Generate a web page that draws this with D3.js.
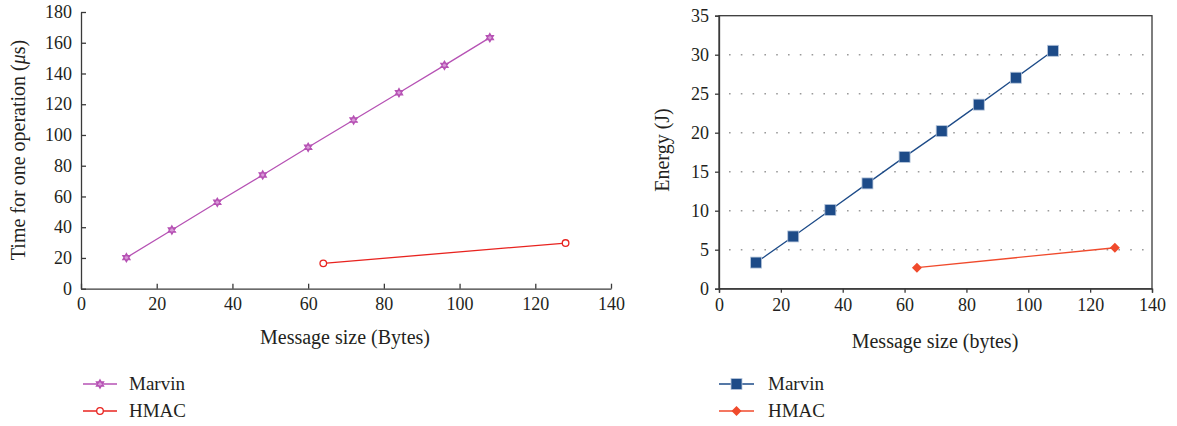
<!DOCTYPE html>
<html>
<head>
<meta charset="utf-8">
<script src="https://cdn.jsdelivr.net/npm/d3@7"></script>
<style>
  body { margin: 0; background: #fff; }
  text { font-family: "Liberation Serif", "DejaVu Serif", serif; fill: #231f20; }
  .axis path, .axis line { stroke: #3a3a3a; stroke-width: 1.3; }
</style>
</head>
<body>
<div class="chart"></div>
<script>
var svgWidth = 1177;
var svgHeight = 426;

// message sizes (bytes)
var marvinSizes = [12, 24, 36, 48, 60, 72, 84, 96, 108];
var hmacSizes = [64, 128];

// left panel: time for one operation (us)
var marvinTime = [20.2, 38.2, 56.2, 74, 92, 109.7, 127.5, 145.3, 163.3];
var hmacTime = [16.5, 29.7];

// right panel: energy (J)
var marvinEnergy = [3.35, 6.7, 10.1, 13.5, 16.9, 20.2, 23.6, 27.05, 30.5];
var hmacEnergy = [2.7, 5.25];

var xTicks = [0, 20, 40, 60, 80, 100, 120, 140];
var timeTicks = [0, 20, 40, 60, 80, 100, 120, 140, 160, 180];
var energyTicks = [0, 5, 10, 15, 20, 25, 30, 35];

var seriesNames = ["Marvin", "HMAC"];

var fontFam = "'Liberation Serif', 'DejaVu Serif', serif";

var svg = d3.select(".chart")
  .append("svg")
  .attr("width", svgWidth)
  .attr("height", svgHeight);

// six pointed star outline
function hexagram(r) {
  let p = d3.path();
  for (let t = 0; t < 2; t++) {
    for (let i = 0; i < 3; i++) {
      let a = (t === 0 ? -Math.PI / 2 : Math.PI / 2) + i * 2 * Math.PI / 3;
      let px = r * Math.cos(a), py = r * Math.sin(a);
      if (i === 0) p.moveTo(px, py); else p.lineTo(px, py);
    }
    p.closePath();
  }
  return p.toString();
}

function styleAxis(g) {
  g.attr("font-family", fontFam).attr("font-size", 18);
  g.selectAll("text")
    .style("font-family", fontFam)
    .style("font-size", "18px")
    .attr("fill", "#231f20");
}

// ---------------- left panel ----------------
let xLeft = d3.scaleLinear().domain([0, 140]).range([81, 611]);
let yLeft = d3.scaleLinear().domain([0, 180]).range([288.7, 12]);

svg.append("g")
  .attr("class", "axis")
  .attr("transform", "translate(0,288.7)")
  .call(d3.axisBottom(xLeft).tickValues(xTicks).tickSizeInner(-5).tickSizeOuter(0).tickPadding(9))
  .call(styleAxis);

svg.append("g")
  .attr("class", "axis")
  .attr("transform", "translate(81,0)")
  .call(d3.axisLeft(yLeft).tickValues(timeTicks).tickSizeInner(-5).tickSizeOuter(0).tickPadding(9))
  .call(styleAxis);

let lineLeft = d3.line().x(d => xLeft(d[0])).y(d => yLeft(d[1]));
let marvinL = d3.zip(marvinSizes, marvinTime);
let hmacL = d3.zip(hmacSizes, hmacTime);

svg.append("path").datum(marvinL)
  .attr("d", lineLeft).attr("fill", "none")
  .attr("stroke", "#b652b4").attr("stroke-width", 1.3);
svg.selectAll(".star").data(marvinL).enter()
  .append("path")
  .attr("class", "star")
  .attr("transform", d => `translate(${xLeft(d[0])},${yLeft(d[1])})`)
  .attr("d", hexagram(4.2))
  .attr("fill", "#d99ad8").attr("stroke", "#b652b4").attr("stroke-width", 1.2);

svg.append("path").datum(hmacL)
  .attr("d", lineLeft).attr("fill", "none")
  .attr("stroke", "#e8231f").attr("stroke-width", 1.3);
svg.selectAll(".ring").data(hmacL).enter()
  .append("circle")
  .attr("class", "ring")
  .attr("cx", d => xLeft(d[0])).attr("cy", d => yLeft(d[1]))
  .attr("r", 3.3)
  .attr("fill", "#fff").attr("stroke", "#e8231f").attr("stroke-width", 1.3);

svg.append("text")
  .attr("transform", "translate(25,150) rotate(-90)")
  .attr("text-anchor", "middle")
  .style("font-size", "20px")
  .html('Time for one operation (<tspan font-style="italic">μ</tspan>s)');

svg.append("text")
  .attr("x", 345).attr("y", 344)
  .attr("text-anchor", "middle")
  .style("font-size", "20px")
  .text("Message size (Bytes)");

// ---------------- right panel ----------------
let xRight = d3.scaleLinear().domain([0, 140]).range([719, 1152]);
let yRight = d3.scaleLinear().domain([0, 35]).range([288.7, 15.7]);

// dotted grid
svg.append("g").selectAll("line")
  .data(energyTicks.filter(d => d > 0 && d < 35))
  .enter().append("line")
  .attr("x1", 719).attr("x2", 1152)
  .attr("y1", d => yRight(d)).attr("y2", d => yRight(d))
  .attr("stroke", "#9a9a9a").attr("stroke-width", 1.6)
  .attr("stroke-dasharray", "1.6,10.2")
  .attr("stroke-dashoffset", -10);

svg.append("rect")
  .attr("x", 719).attr("y", 15.7)
  .attr("width", 1152 - 719).attr("height", 288.7 - 15.7)
  .attr("fill", "none").attr("stroke", "#3a3a3a").attr("stroke-width", 1.3);

svg.append("g")
  .attr("class", "axis")
  .attr("transform", "translate(0,288.7)")
  .call(d3.axisBottom(xRight).tickValues(xTicks).tickSize(4).tickPadding(6))
  .call(styleAxis);

svg.append("g")
  .attr("class", "axis")
  .attr("transform", "translate(719,0)")
  .call(d3.axisLeft(yRight).tickValues(energyTicks).tickSize(4).tickPadding(6))
  .call(styleAxis);

let lineRight = d3.line().x(d => xRight(d[0])).y(d => yRight(d[1]));
let marvinR = d3.zip(marvinSizes, marvinEnergy);
let hmacR = d3.zip(hmacSizes, hmacEnergy);

svg.append("path").datum(marvinR)
  .attr("d", lineRight).attr("fill", "none")
  .attr("stroke", "#1d4b88").attr("stroke-width", 1.3);
svg.selectAll(".sq").data(marvinR).enter()
  .append("rect")
  .attr("class", "sq")
  .attr("x", d => xRight(d[0]) - 5.5).attr("y", d => yRight(d[1]) - 5.5)
  .attr("width", 11).attr("height", 11)
  .attr("fill", "#1d4b88").attr("stroke", "#b8c7dc").attr("stroke-width", 0.8);

svg.append("path").datum(hmacR)
  .attr("d", lineRight).attr("fill", "none")
  .attr("stroke", "#f04a2c").attr("stroke-width", 1.3);
svg.selectAll(".dia").data(hmacR).enter()
  .append("path")
  .attr("class", "dia")
  .attr("transform", d => `translate(${xRight(d[0])},${yRight(d[1])})`)
  .attr("d", "M0,-5L5,0L0,5L-5,0Z")
  .attr("fill", "#f04a2c");

svg.append("text")
  .attr("transform", "translate(669,150) rotate(-90)")
  .attr("text-anchor", "middle")
  .style("font-size", "20px")
  .text("Energy (J)");

svg.append("text")
  .attr("x", 935).attr("y", 348)
  .attr("text-anchor", "middle")
  .style("font-size", "20px")
  .text("Message size (bytes)");

// ---------------- legends ----------------
let legL = svg.append("g").attr("transform", "translate(83,384)");
legL.append("line").attr("x1", 0).attr("x2", 34).attr("stroke", "#b652b4").attr("stroke-width", 1.3);
legL.append("path").attr("transform", "translate(17,0)").attr("d", hexagram(4.2))
  .attr("fill", "#d99ad8").attr("stroke", "#b652b4").attr("stroke-width", 1.2);
legL.append("line").attr("x1", 0).attr("x2", 34).attr("y1", 27).attr("y2", 27).attr("stroke", "#e8231f").attr("stroke-width", 1.3);
legL.append("circle").attr("cx", 17).attr("cy", 27).attr("r", 3.3)
  .attr("fill", "#fff").attr("stroke", "#e8231f").attr("stroke-width", 1.3);
legL.selectAll("text").data(seriesNames).enter().append("text")
  .attr("x", 46).attr("y", (d, i) => i * 27 + 6)
  .style("font-size", "19px")
  .text(d => d);

let legR = svg.append("g").attr("transform", "translate(719,384)");
legR.append("line").attr("x1", 0).attr("x2", 35).attr("stroke", "#1d4b88").attr("stroke-width", 1.3);
legR.append("rect").attr("x", 12).attr("y", -5.5).attr("width", 11).attr("height", 11)
  .attr("fill", "#1d4b88").attr("stroke", "#b8c7dc").attr("stroke-width", 0.8);
legR.append("line").attr("x1", 0).attr("x2", 35).attr("y1", 27).attr("y2", 27).attr("stroke", "#f04a2c").attr("stroke-width", 1.3);
legR.append("path").attr("transform", "translate(17.5,27)").attr("d", "M0,-5L5,0L0,5L-5,0Z").attr("fill", "#f04a2c");
legR.selectAll("text").data(seriesNames).enter().append("text")
  .attr("x", 49).attr("y", (d, i) => i * 27 + 6)
  .style("font-size", "19px")
  .text(d => d);
</script>
</body>
</html>
